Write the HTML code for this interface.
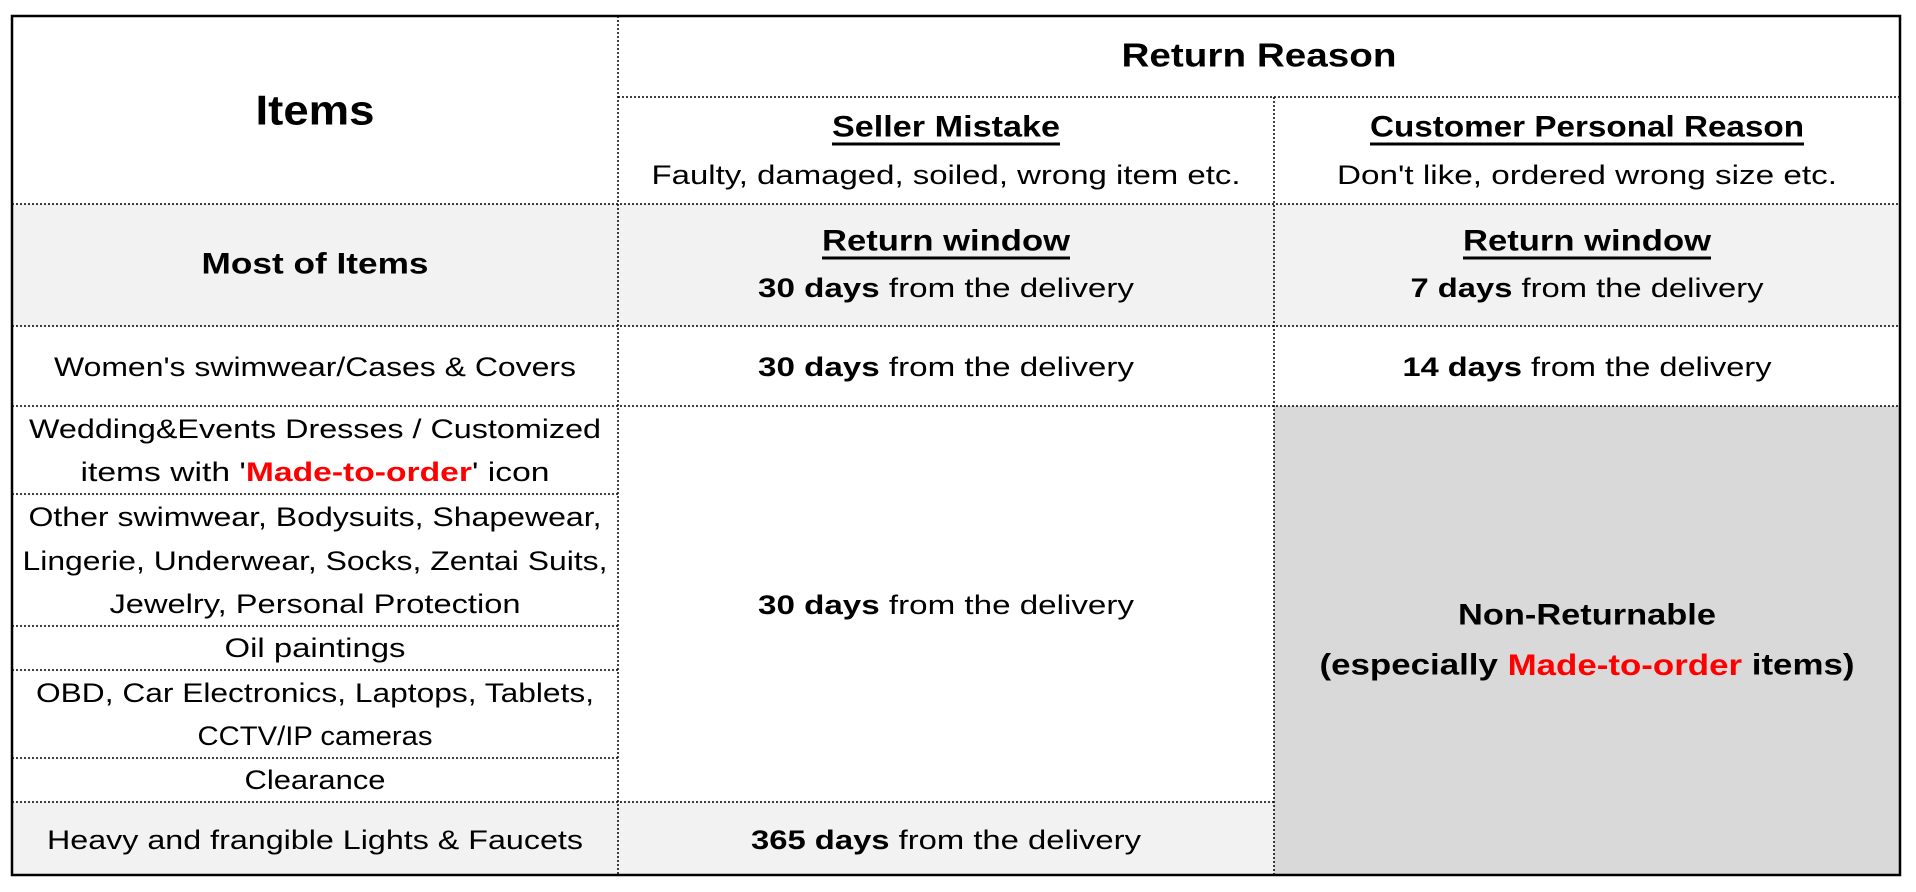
<!DOCTYPE html>
<html><head><meta charset="utf-8"><style>html,body{margin:0;padding:0;background:#fff}svg{display:block}text{font-family:"Liberation Sans",sans-serif;font-size:27px;fill:#000}.b{font-weight:bold}</style></head><body>
<svg width="1916" height="892" xmlns="http://www.w3.org/2000/svg">
<rect x="12" y="204" width="1888" height="122" fill="#f2f2f2"/>
<rect x="12" y="802" width="1262" height="73" fill="#f2f2f2"/>
<rect x="1274" y="406" width="626" height="469" fill="#d9d9d9"/>
<g stroke="#000" stroke-width="1.5" stroke-dasharray="2,2" fill="none">
<line x1="618" y1="16" x2="618" y2="875"/>
<line x1="1274" y1="97" x2="1274" y2="875"/>
<line x1="618" y1="97" x2="1900" y2="97"/>
<line x1="12" y1="204" x2="1900" y2="204"/>
<line x1="12" y1="326" x2="1900" y2="326"/>
<line x1="12" y1="406" x2="1900" y2="406"/>
<line x1="12" y1="494" x2="618" y2="494"/>
<line x1="12" y1="626" x2="618" y2="626"/>
<line x1="12" y1="670" x2="618" y2="670"/>
<line x1="12" y1="758" x2="618" y2="758"/>
<line x1="12" y1="802" x2="1274" y2="802"/>
</g>
<rect x="12" y="16" width="1888" height="859" fill="none" stroke="#000" stroke-width="2.5"/>
<g text-anchor="middle" dominant-baseline="central">
<text x="315" y="110" class="b" style="font-size:42px" textLength="119" lengthAdjust="spacingAndGlyphs">Items</text>
<text x="1259" y="55" class="b" style="font-size:33px" textLength="275" lengthAdjust="spacingAndGlyphs">Return Reason</text>
<text x="946" y="127" class="b" style="font-size:30px;text-decoration:underline" textLength="228" lengthAdjust="spacingAndGlyphs">Seller Mistake</text>
<text x="946" y="175" textLength="589" lengthAdjust="spacingAndGlyphs">Faulty, damaged, soiled, wrong item etc.</text>
<text x="1587" y="127" class="b" style="font-size:30px;text-decoration:underline" textLength="434" lengthAdjust="spacingAndGlyphs">Customer Personal Reason</text>
<text x="1587" y="175" textLength="500" lengthAdjust="spacingAndGlyphs">Don't like, ordered wrong size etc.</text>
<text x="315" y="264" class="b" style="font-size:30px" textLength="227" lengthAdjust="spacingAndGlyphs">Most of Items</text>
<text x="946" y="241" class="b" style="font-size:30px;text-decoration:underline" textLength="248" lengthAdjust="spacingAndGlyphs">Return window</text>
<text x="946" y="288" textLength="376" lengthAdjust="spacingAndGlyphs"><tspan class="b">30 days</tspan> from the delivery</text>
<text x="1587" y="241" class="b" style="font-size:30px;text-decoration:underline" textLength="248" lengthAdjust="spacingAndGlyphs">Return window</text>
<text x="1587" y="288" textLength="353" lengthAdjust="spacingAndGlyphs"><tspan class="b">7 days</tspan> from the delivery</text>
<text x="315" y="367" textLength="522" lengthAdjust="spacingAndGlyphs">Women's swimwear/Cases &amp; Covers</text>
<text x="946" y="367" textLength="376" lengthAdjust="spacingAndGlyphs"><tspan class="b">30 days</tspan> from the delivery</text>
<text x="1587" y="367" textLength="369" lengthAdjust="spacingAndGlyphs"><tspan class="b">14 days</tspan> from the delivery</text>
<text x="315" y="429" textLength="572" lengthAdjust="spacingAndGlyphs">Wedding&amp;Events Dresses / Customized</text>
<text x="315" y="472" textLength="469" lengthAdjust="spacingAndGlyphs">items with '<tspan class="b" style="fill:#ff0000">Made-to-order</tspan>' icon</text>
<text x="315" y="517" textLength="573" lengthAdjust="spacingAndGlyphs">Other swimwear, Bodysuits, Shapewear,</text>
<text x="315" y="561" textLength="585" lengthAdjust="spacingAndGlyphs">Lingerie, Underwear, Socks, Zentai Suits,</text>
<text x="315" y="604" textLength="411" lengthAdjust="spacingAndGlyphs">Jewelry, Personal Protection</text>
<text x="315" y="648" textLength="181" lengthAdjust="spacingAndGlyphs">Oil paintings</text>
<text x="315" y="693" textLength="558" lengthAdjust="spacingAndGlyphs">OBD, Car Electronics, Laptops, Tablets,</text>
<text x="315" y="736" textLength="235" lengthAdjust="spacingAndGlyphs">CCTV/IP cameras</text>
<text x="315" y="780" textLength="141" lengthAdjust="spacingAndGlyphs">Clearance</text>
<text x="315" y="840" textLength="536" lengthAdjust="spacingAndGlyphs">Heavy and frangible Lights &amp; Faucets</text>
<text x="946" y="605" textLength="376" lengthAdjust="spacingAndGlyphs"><tspan class="b">30 days</tspan> from the delivery</text>
<text x="946" y="840" textLength="390" lengthAdjust="spacingAndGlyphs"><tspan class="b">365 days</tspan> from the delivery</text>
<text x="1587" y="615" class="b" style="font-size:30px" textLength="258" lengthAdjust="spacingAndGlyphs">Non-Returnable</text>
<text x="1587" y="665" class="b" style="font-size:30px" textLength="535" lengthAdjust="spacingAndGlyphs">(especially <tspan style="fill:#ff0000">Made-to-order</tspan> items)</text>
</g>
</svg>
</body></html>
